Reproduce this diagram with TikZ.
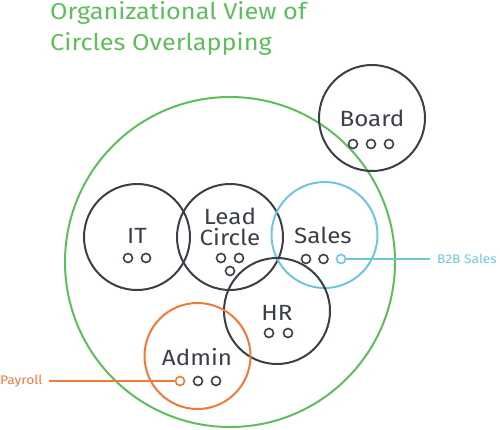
\documentclass[tikz,border=0pt]{standalone}
\usepackage{fontspec}
\setmainfont{Fira Sans}[FakeStretch=1.1]
\definecolor{cgreen}{HTML}{5DBE5B}
\definecolor{cdark}{HTML}{3A3F48}
\definecolor{corange}{HTML}{F07A38}
\definecolor{cblue}{HTML}{6EC6DE}
\begin{document}
\begin{tikzpicture}[x=1pt,y=-1pt,
  bigc/.style={circle,draw=cdark,line width=2pt,minimum size=106pt,inner sep=0pt},
  dot/.style={circle,draw=cdark,line width=1.6pt,minimum size=9pt,inner sep=0pt},
  lbl/.style={font=\fontsize{22}{24}\selectfont,text=cdark,inner sep=0pt,align=center},
  titletxt/.style={font=\fontsize{23}{30}\selectfont,text=cgreen,inner sep=0pt,anchor=base west},
  smalltxt/.style={font=\fontsize{12.5}{14}\selectfont,inner sep=0pt}]
\useasboundingbox (0,0) rectangle (500,429);
\node[titletxt] (t1) at (50,19) {Organizational View of};
\node[titletxt] (t2) at (50,50) {Circles Overlapping};
\node[circle,draw=cgreen,line width=2pt,minimum size=330pt,inner sep=0pt] (outer) at (230,262) {};
\node[bigc] (board) at (372,118) {};
\node[bigc] (it) at (137,237) {};
\node[bigc] (lead) at (230,237) {};
\node[bigc,draw=cblue] (sales) at (324.5,235) {};
\node[bigc] (hr) at (277,311) {};
\node[bigc,draw=corange] (admin) at (197.5,356) {};
% labels
\node[lbl] (boardl) at (372,118) {Board};
\node[lbl] (itl) at (137,236) {IT};
\node[lbl] (leadl) at (230,227) {Lead\\[-3pt]Circle};
\node[lbl] (salesl) at (323,235) {Sales};
\node[lbl] (hrl) at (277,313) {HR};
\node[lbl] (adminl) at (197,357) {Admin};
% dots
\node[dot] (b1) at (353,144) {};
\node[dot] (b2) at (371,144) {};
\node[dot] (b3) at (389,144) {};
\node[dot] (i1) at (128,258) {};
\node[dot] (i2) at (146,258) {};
\node[dot] (l1) at (221,258) {};
\node[dot] (l2) at (239,258) {};
\node[dot] (l3) at (230,271) {};
\node[dot] (s1) at (306,259) {};
\node[dot] (s2) at (323.5,259) {};
\node[dot,draw=cblue] (s3) at (341,259) {};
\node[dot] (h1) at (269,333) {};
\node[dot] (h2) at (288,333) {};
\node[dot,draw=corange] (a1) at (180,381) {};
\node[dot] (a2) at (198,381) {};
\node[dot] (a3) at (216,381) {};
% external labels
\node[smalltxt,text=corange,anchor=west] (payroll) at (0,381) {Payroll};
\node[smalltxt,text=cblue,anchor=west] (b2b) at (437,259) {B2B Sales};
\draw[corange,line width=2pt,shorten <=6pt] (payroll.east) -- (a1.west);
\draw[cblue,line width=2pt,shorten >=7pt] (s3.east) -- (b2b.west);
\end{tikzpicture}
\end{document}
